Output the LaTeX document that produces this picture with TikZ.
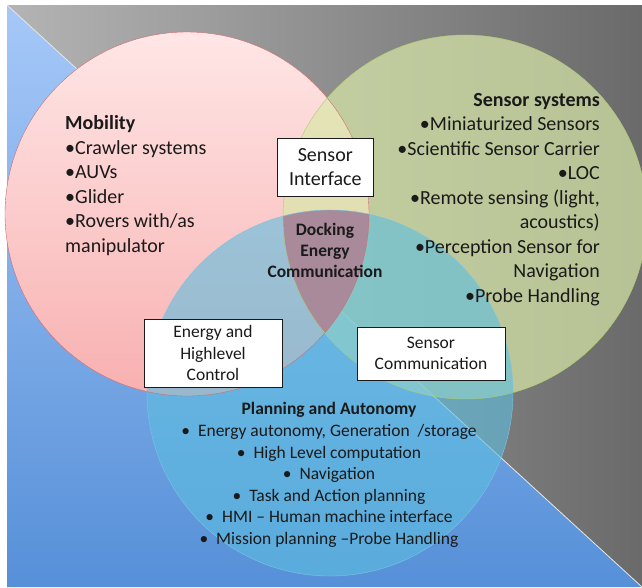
\documentclass[tikz,border=0pt]{standalone}
\usepackage{fontspec}
\setmainfont{Carlito}
\definecolor{greyleft}{HTML}{B4B4B4}
\definecolor{greyright}{HTML}{6A6A6A}
\definecolor{bluetop}{HTML}{A6C8F8}
\definecolor{bluebottom}{HTML}{5690D8}
\definecolor{pinktop}{HTML}{FFE6E6}
\definecolor{pinkbottom}{HTML}{F8B0B0}
\definecolor{greenfill}{HTML}{D8E8A8}
\definecolor{bluefill}{HTML}{5CBEE0}
\definecolor{mauve}{HTML}{A88A9A}
\definecolor{redline}{HTML}{D46A6A}
\definecolor{greenline}{HTML}{B0CC6C}
\definecolor{blueline}{HTML}{7CC6E2}
\definecolor{ink}{HTML}{1A1A1A}
\begin{document}
\begin{tikzpicture}[
  x=1pt, y=-1pt,
  every node/.style={text=ink, inner sep=0pt},
  big/.style={font=\fontsize{20}{24.5}\selectfont},
  small/.style={font=\fontsize{17.5}{21.6}\selectfont},
  smallbold/.style={font=\fontsize{17.5}{21}\selectfont\bfseries},
  box/.style={draw=ink, fill=white, line width=0.8pt, align=center}
]
\useasboundingbox (0,0) rectangle (642,587);
\shade[left color=greyleft, right color=greyright] (7,5) -- (642,5) -- (642,587) -- cycle;
\shade[top color=bluetop, bottom color=bluebottom] (7,5) -- (7,587) -- (642,587) -- cycle;
\draw[white!80!gray, line width=0.8pt] (7,5) -- (642,587);
\shade[top color=pinktop, bottom color=pinkbottom] (187,214) circle (182);
\fill[greenfill, fill opacity=0.7] (465,217) circle (182);
\fill[bluefill, fill opacity=0.6] (330,393) circle (183);
\begin{scope}
  \clip (187,214) circle (182);
  \clip (465,217) circle (182);
  \fill[mauve] (330,393) circle (183);
\end{scope}
\draw[redline] (187,214) circle (182);
\draw[greenline] (465,217) circle (182);
\draw[blueline] (330,393) circle (183);

\node[big, align=left, anchor=base west] (mobility) at (65,252)
  {\textbf{Mobility}\\•Crawler systems\\•AUVs\\•Glider\\•Rovers with/as\\manipulator};
\node[big, align=right, anchor=base east] (sensors) at (600,302)
  {\textbf{Sensor systems}\\•Miniaturized Sensors\\•Scientific Sensor Carrier\\•LOC\\•Remote sensing (light,\\acoustics)\\•Perception Sensor for\\Navigation\\•Probe Handling};
\node[small, align=center, anchor=base] (planning) at (329,544.5)
  {\textbf{Planning and Autonomy}\\
   •\hspace{8pt}Energy autonomy, Generation\ \ /storage\\
   •\hspace{8pt}High Level computation\\
   •\hspace{8pt}Navigation\\
   •\hspace{8pt}Task and Action planning\\
   •\hspace{8pt}HMI – Human machine interface\\
   •\hspace{8pt}Mission planning –Probe Handling};
\node[smallbold, align=center, anchor=base] (docking) at (325,277)
  {Docking\\Energy\\Communication};

\node[box, font=\fontsize{20}{24}\selectfont, minimum width=95.5, minimum height=58] (sensorif) at (325.3,167.5)
  {Sensor\\Interface};
\node[box, small, minimum width=138, minimum height=68] (energyctl) at (213,353)
  {Energy and\\Highlevel\\Control};
\node[box, small, minimum width=148, minimum height=53] (sensorcom) at (431,353.5)
  {Sensor\\Communication};
\end{tikzpicture}
\end{document}
